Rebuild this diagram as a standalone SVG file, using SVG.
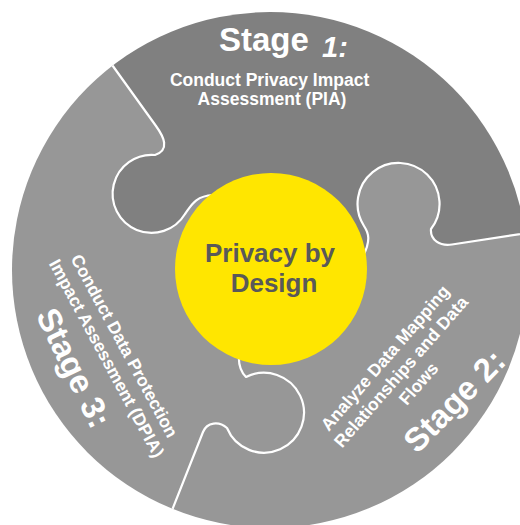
<svg xmlns="http://www.w3.org/2000/svg" width="520" height="525" viewBox="0 0 520 525">
  <defs>
    <clipPath id="disc">
      <circle cx="270" cy="270" r="258"/>
    </clipPath>
    <style>
      .piece-dark { fill: #808080; }
      .piece-light { fill: #979797; }
      .seam { fill: none; stroke: #ffffff; stroke-width: 2.2; stroke-linejoin: round; stroke-linecap: round; }
      .txt { font-family: "Liberation Sans", Arial, sans-serif; font-weight: bold; fill: #ffffff; }
      .title { font-size: 33px; }
      .desc { font-size: 17.5px; }
      .hub-text { font-family: "Liberation Sans", Arial, sans-serif; font-weight: bold; font-size: 26px; fill: #595959; text-anchor: middle; }
    </style>
  </defs>

  <rect width="520" height="525" fill="#ffffff"/>

  <g clip-path="url(#disc)">
    <!-- Stage 1 puzzle piece (top) -->
    <g id="stage-1">
      <path class="piece-dark" d="M 92 37 L 156 126 C 164 137 170 150 155 155 A 39 39 0 1 0 185 214 C 191 206 195 196 213 195 L 271 269 L 362 258 C 372 240 368 232 364 226 A 41 41 0 1 1 431 229 C 430 240 440 246.5 452 244.5 L 540 231 L 560 231 L 560 -20 L 92 -20 Z"/>
    </g>
    <!-- Stage 2 puzzle piece (lower right) -->
    <g id="stage-2">
      <path class="piece-light" d="M 165 528 L 203 432 C 207 422 219 421 227 428 A 40 40 0 1 0 246 377 C 242 373 238 366 239 354 L 271 269 L 362 258 C 372 240 368 232 364 226 A 41 41 0 1 1 431 229 C 430 240 440 246.5 452 244.5 L 540 231 L 560 231 L 560 560 L 165 560 Z"/>
    </g>
    <!-- Stage 3 puzzle piece (left) -->
    <g id="stage-3">
      <path class="piece-light" d="M 92 37 L 156 126 C 164 137 170 150 155 155 A 39 39 0 1 0 185 214 C 191 206 195 196 213 195 L 271 269 L 239 354 C 238 366 242 373 246 377 A 40 40 0 1 1 227 428 C 219 421 207 422 203 432 L 165 528 L 165 560 L -20 560 L -20 37 Z"/>
    </g>

    <!-- white seams between the pieces -->
    <g id="connectors">
      <path class="seam" d="M 92 37 L 156 126 C 164 137 170 150 155 155 A 39 39 0 1 0 185 214 C 191 206 195 196 213 195 L 240 220"/>
      <path class="seam" d="M 540 231 L 452 244.5 C 440 246.5 430 240 431 229 A 41 41 0 1 0 364 226 C 368 232 372 240 362 258 L 340 262"/>
      <path class="seam" d="M 165 528 L 203 432 C 207 422 219 421 227 428 A 40 40 0 1 0 246 377 C 242 373 238 366 239 354 L 245 330"/>
    </g>
  </g>

  <!-- labels on the pieces -->
  <g id="stage-1-label">
    <text class="txt title" x="219" y="51">Stage <tspan font-style="italic" font-size="29" x="322" y="57">1:</tspan></text>
    <text class="txt desc" text-anchor="middle">
      <tspan x="272" y="86">Conduct Privacy Impact</tspan>
      <tspan x="272" y="105">Assessment (PIA)</tspan>
    </text>
  </g>

  <g id="stage-2-label">
    <text class="txt desc" text-anchor="middle" transform="translate(391.3 360) rotate(-49)">
      <tspan x="0" y="0">Analyze Data Mapping</tspan>
      <tspan x="0" y="21">Relationships and Data</tspan>
      <tspan x="0" y="42">Flows</tspan>
    </text>
    <text class="txt title" text-anchor="middle" transform="translate(462.4 408.7) rotate(-45.4)">Stage 2:</text>
  </g>

  <g id="stage-3-label">
    <text class="txt desc" text-anchor="middle" transform="translate(120.3 350.9) rotate(61.6)">
      <tspan x="0" y="0">Conduct Data Protection</tspan>
      <tspan x="0" y="21.5">Impact Assessment (DPIA)</tspan>
    </text>
    <text class="txt title" text-anchor="middle" transform="translate(63.7 373) rotate(64)">Stage 3:</text>
  </g>

  <!-- central hub -->
  <g id="hub">
    <circle cx="271" cy="269" r="96" fill="#ffe600"/>
    <text class="hub-text" x="270" y="262">Privacy by</text>
    <text class="hub-text" x="274" y="292">Design</text>
  </g>
</svg>
